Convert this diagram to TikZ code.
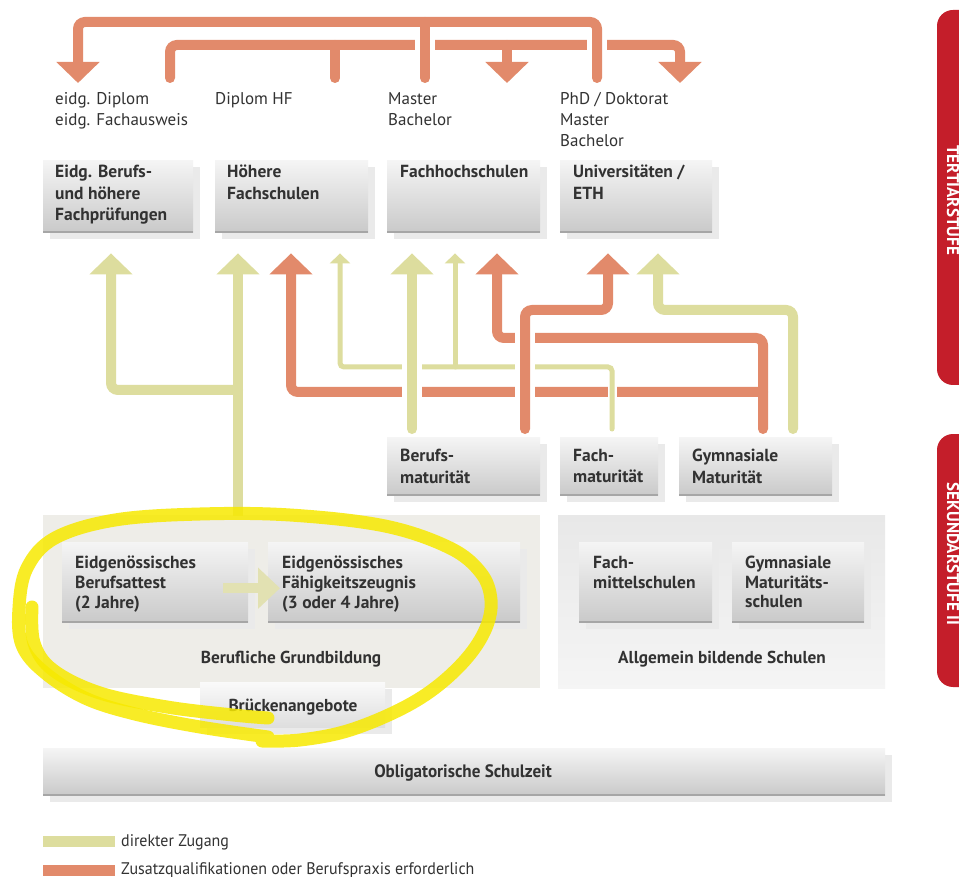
\documentclass[tikz,border=0pt]{standalone}
\usepackage{fontspec}
\setmainfont{PT Sans}
\newfontfamily\condfont[FakeStretch=0.95]{PT Sans}
\usetikzlibrary{arrows.meta,calc}
\definecolor{orangec}{RGB}{226,138,107}
\definecolor{yellowc}{RGB}{221,221,158}
\definecolor{paley}{RGB}{226,225,178}
\definecolor{txtc}{RGB}{50,50,50}
\definecolor{redc}{RGB}{196,30,42}
\definecolor{gbbg}{RGB}{238,237,232}
\definecolor{shadowc}{RGB}{234,234,234}
\definecolor{hlc}{RGB}{247,233,0}
\newcommand\mkbox[5]{%
  \fill[shadowc] (#2+7,#3+7) rectangle ++(#4,#5);
  \node[gbox, minimum width=#4pt, minimum height=#5pt] (#1) at (#2,#3) {};}
\tikzset{
  gbox/.style={rectangle, anchor=north west, inner sep=0pt, top color=black!4, bottom color=black!21,
    path picture={\draw[black!35, line width=1.5pt] (path picture bounding box.south west) -- (path picture bounding box.south east);}},
  btext/.style={anchor=north west, align=left, inner sep=0pt, text=txtc, font=\fontsize{17.5}{21.5}\selectfont\bfseries},
  btextb/.style={anchor=north west, align=left, inner sep=0pt, text=txtc, font=\fontsize{17.5}{19.6}\selectfont\bfseries},
  ltext/.style={anchor=north west, align=left, inner sep=0pt, text=txtc, font=\fontsize{17}{21}\selectfont},
  ctext/.style={anchor=base, inner sep=0pt, text=txtc, font=\fontsize{17.3}{21}\selectfont\bfseries},
  legtext/.style={anchor=base west, inner sep=0pt, text=txtc, font=\condfont\fontsize{16.8}{19}\selectfont},
  tabtext/.style={rotate=-90, anchor=base, inner sep=0pt, text=white, font=\fontsize{17}{19}\selectfont\bfseries},
  oline/.style={draw=orangec, line width=10pt, rounded corners=7pt, line cap=round},
  yline/.style={draw=yellowc, line width=10pt, rounded corners=7pt, line cap=round},
  ythin/.style={draw=yellowc, line width=5pt, rounded corners=4pt, line cap=round},
  bigtip/.style={-{Triangle[width=42pt,length=21pt]}},
  smalltip/.style={-{Triangle[width=20pt,length=10pt]}},
  gapw/.style={draw=white, line width=20pt},
  hl/.style={draw=hlc, line width=13pt, line cap=round, line join=round, opacity=0.85},
}
\begin{document}
\begin{tikzpicture}[x=1pt,y=-1pt]
\useasboundingbox (0,0) rectangle (959,877);
\fill[white] (0,0) rectangle (959,877);

% red side tabs
\begin{scope}
\clip (0,0) rectangle (959,877);
\fill[redc, rounded corners=16pt] (937,10) rectangle (995,385);
\fill[redc, rounded corners=16pt] (937,434) rectangle (995,687);
\node[tabtext] (tert) at (947,200) {TERTIÄRSTUFE};
\node[tabtext] (sek) at (947,554) {SEKUNDARSTUFE II};
\end{scope}

% background areas
\node[rectangle, anchor=north west, inner sep=0pt, fill=gbbg, minimum width=497pt, minimum height=173pt] (gb) at (43,515) {};
\node[rectangle, anchor=north west, inner sep=0pt, top color=black!9, bottom color=black!4, minimum width=327pt, minimum height=173pt] (ag) at (558,515) {};

% boxes
\mkbox{eb}{43}{160}{150}{72}
\mkbox{hf}{215}{160}{153}{72}
\mkbox{fh}{387}{160}{153}{72}
\mkbox{uni}{560}{160}{152}{72}
\mkbox{bm}{387}{437}{153}{58}
\mkbox{fm}{560}{437}{98}{58}
\mkbox{gm}{679}{437}{153}{58}
\mkbox{eba}{62}{542}{186}{80}
\mkbox{efz}{268}{542}{252}{80}
\mkbox{fms}{579}{542}{133}{80}
\mkbox{gms}{732}{542}{132}{80}
\fill[shadowc] (207,689) rectangle ++(185,45);
\node[rectangle, anchor=north west, inner sep=0pt, top color=black!2, bottom color=black!13, minimum width=185pt, minimum height=45pt] (br) at (200,682) {};
\mkbox{os}{43}{748}{842}{47}

% box texts
\node[btext] (ebt) at ($(eb.north west)+(12,5)$) {Eidg. Berufs-\\und höhere\\Fachprüfungen};
\node[btext] (hft) at ($(hf.north west)+(12,5)$) {Höhere\\Fachschulen};
\node[btext] (fht) at ($(fh.north west)+(13,5)$) {Fachhochschulen};
\node[btext] (unit) at ($(uni.north west)+(13,5)$) {Universitäten /\\ETH};
\node[btext] (bmt) at ($(bm.north west)+(13,12)$) {Berufs-\\maturität};
\node[btext] (fmt) at ($(fm.north west)+(13,12)$) {Fach-\\maturität};
\node[btext] (gmt) at ($(gm.north west)+(13,12)$) {Gymnasiale\\Maturität};
\node[btextb] (ebat) at ($(eba.north west)+(13,14)$) {Eidgenössisches\\Berufsattest\\(2 Jahre)};
\node[btextb] (efzt) at ($(efz.north west)+(14,14)$) {Eidgenössisches\\Fähigkeitszeugnis\\(3 oder 4 Jahre)};
\node[btextb] (fmst) at ($(fms.north west)+(14,14)$) {Fach-\\mittelschulen};
\node[btextb] (gmst) at ($(gms.north west)+(13,14)$) {Gymnasiale\\Maturitäts-\\schulen};
\node[ctext] (gbt) at (291,663) {Berufliche Grundbildung};
\node[ctext] (agt) at (722,663) {Allgemein bildende Schulen};
\node[ctext] (brt) at (293,711) {Brückenangebote};
\node[ctext, font=\condfont\fontsize{18}{20}\selectfont\bfseries] (ost) at (463,777) {Obligatorische Schulzeit};

% top labels
\node[ltext] (l1) at (55,92) {eidg. Diplom\\eidg. Fachausweis};
\node[ltext] (l2) at (215,92) {Diplom HF};
\node[ltext] (l3) at (388,92) {Master\\Bachelor};
\node[ltext] (l4) at (560,92) {PhD / Doktorat\\Master\\Bachelor};

% top connectors
\coordinate (u2s) at (170,78);
\coordinate (u2b) at (335,78);
\coordinate (u2c) at (507,83);
\coordinate (u2d) at (680,83);
\coordinate (u1s) at (597,78);
\coordinate (u1b) at (425,78);
\coordinate (u1a) at (78,83);
\draw[oline, bigtip] (u2s) -- ++(0,-33) -| (u2d);
\draw[oline] (u2b |- 0,45) -- (u2b);
\draw[oline, bigtip] (u2c |- 0,45) -- (u2c);
\draw[gapw] (425,31) -- (425,70);
\draw[gapw] (597,31) -- (597,70);
\draw[oline, bigtip] (u1s) -- ++(0,-56) -| (u1a);
\draw[oline] (u1b |- 0,22) -- (u1b);

% middle connectors
% Gymnasiale Maturitaet orange
\draw[oline, bigtip] ($(gm.north west)+(84,-8)$) -- ++(0,-91) -| ($(fh.south west)+(110,21)$);
\draw[oline, bigtip] ($(gm.north west)+(84,-45)$) -| ($(hf.south west)+(76,21)$);
% Fachmaturitaet thin yellow
\draw[white, line width=9pt] ($(fm.north west)+(52,-37)$) -- ($(fm.north west)+(52,-53)$);
\draw[ythin, smalltip] ($(fm.north west)+(52,-8)$) -- ++(0,-62) -| ($(hf.south west)+(125,21)$);
\draw[ythin, smalltip] ($(fm.north west)+(-105,-70)$) -- ($(fh.south west)+(68,21)$);
% Berufsmaturitaet yellow
\draw[gapw] ($(bm.north west)+(25,-17)$) -- ($(bm.north west)+(25,-147)$);
\draw[yline, bigtip] ($(bm.north west)+(25,-8)$) -- ($(fh.south west)+(25,21)$);
% Berufsmaturitaet orange
\draw[gapw] ($(bm.north west)+(138,-17)$) -- ($(bm.north west)+(138,-117)$);
\draw[oline, bigtip] ($(bm.north west)+(138,-8)$) -- ++(0,-119) -| ($(uni.south west)+(48,21)$);
% Gymnasiale Maturitaet yellow
\draw[yline, bigtip] ($(gm.north west)+(114,-8)$) -- ++(0,-119) -| ($(uni.south west)+(98,21)$);
% Berufliche Grundbildung yellow
\draw[yline, bigtip, line cap=butt] ($(gb.north west)+(195,1)$) -- ($(hf.south west)+(23,21)$);
\draw[yline, bigtip] ($(gb.north west)+(195,-125)$) -| ($(eb.south west)+(68,21)$);

% EBA -> EFZ
\draw[draw=paley, line width=10pt, -{Triangle[width=40pt,length=22pt]}] ($(eba.east)+(-25,6)$) -- ($(efz.west)+(12,6)$);

% highlight loop
\draw[hl] plot[smooth, tension=0.6] coordinates {(262,741) (300,740) (347,731) (397,711) (435,688) (467,658) (486,628) (491,600) (481,573) (450,548) (385,526) (290,515) (200,514) (115,520) (55,538) (27,568) (19,608) (22,645) (44,672) (85,698) (135,714) (200,727) (268,737)};
\draw[hl] plot[smooth, tension=0.6] coordinates {(32,607) (34,643) (53,670) (100,693) (167,707) (233,715) (268,718)};

% legend
\fill[yellowc] (43,836) rectangle (115,847);
\fill[orangec] (43,865) rectangle (115,876);
\node[legtext] (lg1) at (121,846) {direkter Zugang};
\node[legtext] (lg2) at (121,874) {Zusatzqualifikationen oder Berufspraxis erforderlich};
\end{tikzpicture}
\end{document}
